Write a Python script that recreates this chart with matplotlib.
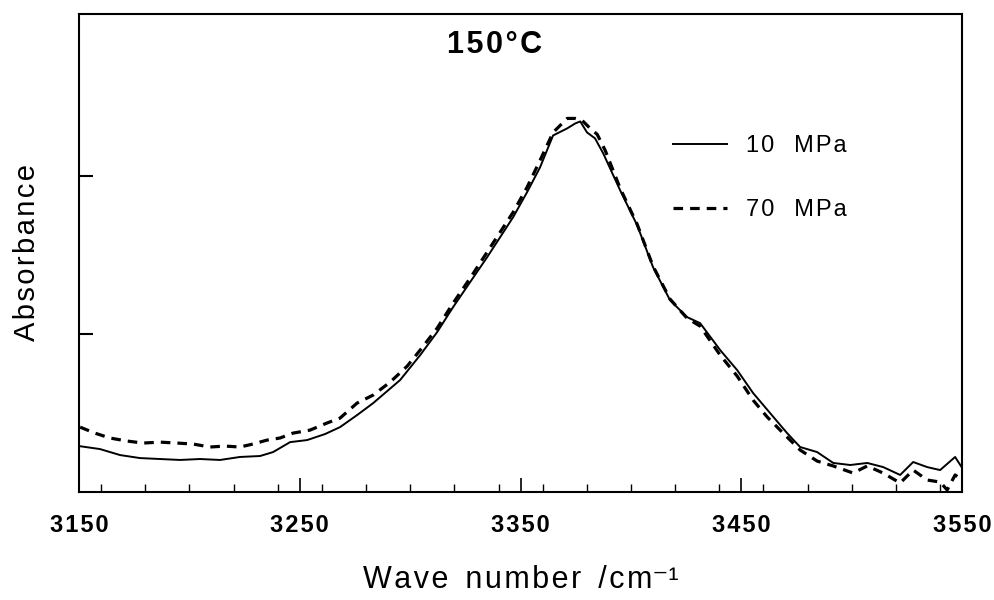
import matplotlib
matplotlib.use("Agg")
import matplotlib.pyplot as plt
from matplotlib.ticker import MultipleLocator, NullFormatter

plt.rcParams['font.family'] = ['Liberation Sans', 'DejaVu Sans']

# 10 MPa (solid)
wn_10 = [3150.0, 3159.5, 3168.6, 3177.6, 3186.7, 3195.8, 3204.8, 3213.9, 3222.9, 3232.0,
         3237.9, 3245.6, 3253.3, 3261.4, 3268.2, 3275.9, 3283.2, 3295.4, 3304.5, 3312.2,
         3319.4, 3327.1, 3334.8, 3346.6, 3352.9, 3358.8, 3364.7, 3371.1, 3374.7, 3377.0,
         3380.1, 3383.7, 3387.4, 3395.1, 3402.8, 3410.0, 3417.7, 3425.4, 3431.3, 3440.4,
         3448.1, 3455.3, 3463.0, 3470.7, 3476.6, 3484.3, 3491.6, 3499.3, 3507.0, 3514.2,
         3521.9, 3527.8, 3534.1, 3540.0, 3546.8, 3550.0]
abs_10 = [0.291, 0.272, 0.234, 0.215, 0.209, 0.203, 0.209, 0.203, 0.222, 0.228,
          0.253, 0.316, 0.329, 0.367, 0.411, 0.487, 0.563, 0.709, 0.867, 1.013,
          1.171, 1.329, 1.487, 1.741, 1.899, 2.057, 2.259, 2.304, 2.335, 2.348,
          2.278, 2.241, 2.146, 1.911, 1.690, 1.424, 1.215, 1.108, 1.070, 0.899,
          0.772, 0.627, 0.500, 0.373, 0.285, 0.253, 0.184, 0.171, 0.184, 0.158,
          0.108, 0.190, 0.158, 0.139, 0.222, 0.152]

# 70 MPa (dashed)
wn_70 = [3150.5, 3157.2, 3164.0, 3171.7, 3179.0, 3186.7, 3194.4, 3201.6, 3209.3, 3216.1,
         3222.9, 3228.8, 3235.2, 3241.0, 3246.9, 3254.6, 3262.3, 3268.2, 3275.9, 3283.2,
         3290.9, 3298.6, 3304.5, 3312.2, 3319.4, 3327.1, 3334.8, 3346.6, 3352.9, 3358.8,
         3364.7, 3371.1, 3374.7, 3377.9, 3381.5, 3384.7, 3388.3, 3395.1, 3402.8, 3410.0,
         3417.7, 3425.4, 3431.3, 3440.4, 3448.1, 3455.3, 3461.7, 3468.9, 3476.6, 3484.3,
         3491.6, 3500.6, 3507.0, 3514.2, 3521.9, 3527.8, 3534.1, 3540.0, 3543.2, 3546.8,
         3550.0]
abs_70 = [0.411, 0.373, 0.342, 0.323, 0.310, 0.316, 0.310, 0.304, 0.285, 0.291,
          0.285, 0.304, 0.329, 0.342, 0.373, 0.392, 0.437, 0.468, 0.563, 0.614,
          0.696, 0.797, 0.899, 1.038, 1.196, 1.354, 1.519, 1.772, 1.930, 2.101,
          2.278, 2.367, 2.367, 2.354, 2.304, 2.266, 2.165, 1.924, 1.696, 1.430,
          1.222, 1.101, 1.051, 0.867, 0.734, 0.582, 0.475, 0.373, 0.266, 0.196,
          0.165, 0.120, 0.165, 0.120, 0.057, 0.139, 0.076, 0.063, 0.013, 0.108,
          0.076]

labels = ['10  MPa', '70  MPa']
title = '150°C'
xlabel_words = ['Wave', 'number', '/cm']
ylabel = 'Absorbance'
xticks = [3150, 3250, 3350, 3450, 3550]
yticks = [1, 2]

HS = '\u200a'  # hair space for letter spacing


def spaced(s):
    return '   '.join(HS.join(w) for w in s.split('  '))


fig = plt.figure(figsize=(9.94, 6.0), dpi=100)
ax = fig.add_axes([0.0795, 0.18, 0.8885, 0.797])

ax.plot(wn_10, abs_10, color='black', lw=1.4, label=spaced(labels[0]))
ax.plot(wn_70, abs_70, color='black', lw=2.3, linestyle=(0, (3.0, 2.2)),
        label=spaced(labels[1]))

ax.set_xlim(3150, 3550)
ax.set_ylim(0, 3.03)
ax.set_xticks(xticks)
ax.set_xticklabels([HS.join(str(t)) for t in xticks], fontweight='bold', fontsize=17)
ax.xaxis.set_minor_locator(MultipleLocator(20))
ax.set_yticks(yticks)
ax.yaxis.set_major_formatter(NullFormatter())
ax.tick_params(axis='x', which='major', direction='in', length=10, width=1.2, pad=16)
ax.tick_params(axis='x', which='minor', direction='in', length=6, width=1.0)
ax.tick_params(axis='y', which='major', direction='in', length=10, width=1.5)
for s in ax.spines.values():
    s.set_linewidth(1.5)

xl = HS.join(xlabel_words[0]) + '  ' + HS.join(xlabel_words[1]) + '  ' + \
    HS.join(xlabel_words[2]) + '⁻¹'
ax.set_xlabel(xl, fontsize=22, labelpad=20)
ax.set_ylabel(HS.join(ylabel), fontsize=21, labelpad=24)

ax.text(0.47, 0.935, HS.join(title), transform=ax.transAxes, ha='center', va='center',
        fontsize=22, fontweight='bold')

leg = ax.legend(loc='upper left', bbox_to_anchor=(0.648, 0.79), frameon=False,
                fontsize=17, handlelength=2.3, handletextpad=0.8, labelspacing=1.75)

fig.savefig('out.png', dpi=100)
